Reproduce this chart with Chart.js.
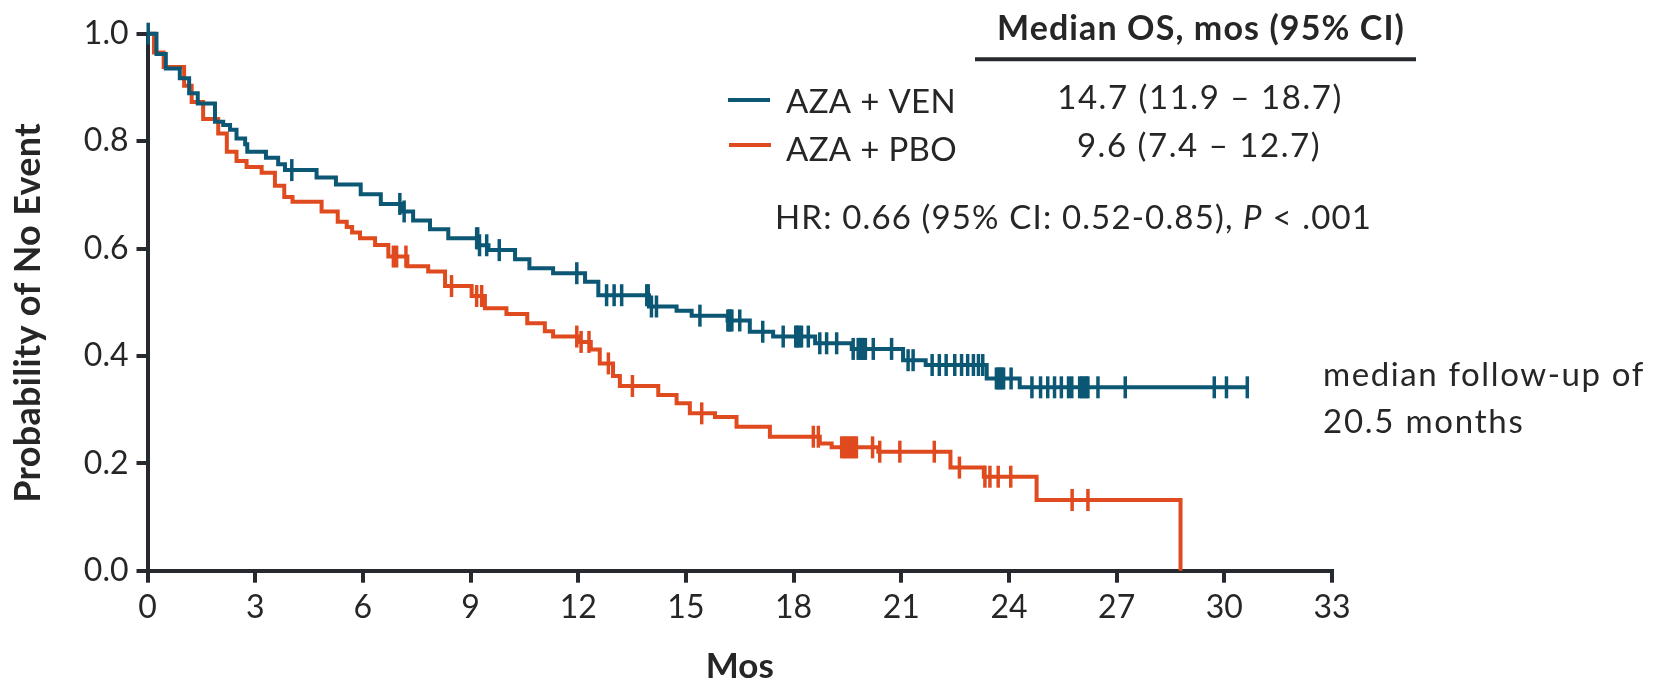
<!DOCTYPE html>
<html><head><meta charset="utf-8">
<script src="https://cdn.jsdelivr.net/npm/chart.js@4.4.1/dist/chart.umd.min.js"></script>
<style>html,body{margin:0;padding:0;background:#fff;} #wrap{width:1656px;height:681px;position:relative}</style>
</head><body><div id="wrap"><canvas id="c" width="1656" height="681"></canvas></div>
<script>
// ---------- data ----------
const xTickValues = [0, 3, 6, 9, 12, 15, 18, 21, 24, 27, 30, 33];
const yTickValues = [0, 0.2, 0.4, 0.6, 0.8, 1.0];

const venEventTimes = [0.25, 0.51, 0.90, 1.16, 1.40, 1.88, 2.11, 2.30, 2.48, 2.72, 2.78, 3.30, 3.64, 3.83, 4.71, 5.25, 5.94, 6.50, 7.10, 7.40, 7.87, 8.38, 9.22, 9.50, 10.24, 10.64, 11.30, 12.19, 12.56, 13.97, 14.74, 15.16, 16.16, 16.78, 17.43, 18.60, 19.62, 21.05, 21.68, 23.38, 24.30];
const venSurvival   = [0.962, 0.935, 0.917, 0.889, 0.870, 0.836, 0.830, 0.821, 0.805, 0.794, 0.780, 0.769, 0.757, 0.746, 0.732, 0.719, 0.701, 0.683, 0.669, 0.652, 0.636, 0.619, 0.606, 0.597, 0.580, 0.563, 0.554, 0.538, 0.513, 0.492, 0.484, 0.475, 0.466, 0.445, 0.436, 0.4235, 0.413, 0.392, 0.383, 0.358, 0.3415];
const venCensorTimes = [0.02, 4.02, 7.03, 7.15, 9.17, 9.20, 9.25, 9.45, 9.80, 11.96, 12.79, 13.00, 13.21, 13.91, 13.95, 14.04, 14.18, 15.39, 16.17, 16.20, 16.24, 16.28, 16.50, 17.14, 17.71, 18.06, 18.10, 18.15, 18.22, 18.41, 18.73, 18.92, 19.20, 19.66, 19.80, 19.85, 19.90, 19.95, 20.00, 20.22, 20.73, 21.19, 21.33, 21.86, 22.06, 22.25, 22.49, 22.68, 22.85, 23.01, 23.15, 23.27, 23.65, 23.70, 23.75, 23.80, 23.85, 24.06, 24.64, 24.88, 25.08, 25.27, 25.46, 25.66, 25.75, 25.97, 26.03, 26.09, 26.15, 26.20, 26.48, 27.24, 29.72, 30.06, 30.64];
const venLastTime = 30.64;

const pboEventTimes = [0.18, 0.45, 1.02, 1.23, 1.55, 1.97, 2.21, 2.48, 2.76, 3.18, 3.55, 3.81, 4.04, 4.85, 5.30, 5.55, 5.70, 5.92, 6.34, 6.71, 7.24, 7.82, 8.29, 9.03, 9.40, 10.00, 10.58, 11.07, 11.30, 12.00, 12.35, 12.60, 12.97, 13.16, 14.23, 14.74, 15.11, 15.81, 16.41, 17.34, 18.73, 19.06, 20.36, 22.37, 23.30, 24.77, 28.78];
const pboSurvival   = [0.965, 0.938, 0.903, 0.873, 0.841, 0.814, 0.780, 0.763, 0.752, 0.741, 0.717, 0.696, 0.687, 0.669, 0.650, 0.640, 0.630, 0.619, 0.6065, 0.585, 0.567, 0.557, 0.530, 0.5115, 0.4886, 0.478, 0.461, 0.446, 0.436, 0.426, 0.412, 0.386, 0.3626, 0.344, 0.327, 0.312, 0.293, 0.286, 0.268, 0.2495, 0.237, 0.2297, 0.2216, 0.192, 0.175, 0.1317, 0];
const pboCensorTimes = [6.85, 6.94, 7.20, 8.47, 9.17, 9.31, 11.96, 12.08, 12.30, 12.84, 13.51, 15.44, 18.55, 18.69, 19.34, 19.40, 19.46, 19.52, 19.58, 19.64, 19.70, 19.75, 20.20, 20.40, 20.96, 21.92, 22.62, 23.33, 23.47, 23.70, 24.05, 25.76, 26.20];
const pboLastTime = 28.78;

const seriesNames = ['AZA + VEN', 'AZA + PBO'];
const medianText = ['14.7 (11.9 \u2013 18.7)', '9.6 (7.4 \u2013 12.7)'];

// ---------- styling ----------
const BLUE = '#0b5774';
const ORANGE = '#e04a1f';
const AXIS = '#262a2e';
const TEXT = '#262626';
const FONT = 'Lato';

function survAt(times, surv, t) {
  let s = 1;
  for (let i = 0; i < times.length; i++) { if (times[i] <= t) s = surv[i]; }
  return s;
}
function stepData(times, surv, last) {
  const pts = [{x: 0, y: 1}];
  for (let i = 0; i < times.length; i++) pts.push({x: times[i], y: surv[i]});
  if (times[times.length - 1] < last) pts.push({x: last, y: surv[surv.length - 1]});
  return pts;
}
function censorData(times, evT, evS) {
  return times.map(t => ({x: t, y: survAt(evT, evS, t)}));
}

function txt(ctx, s, x, y, font, spacing, align) {
  ctx.font = font;
  ctx.letterSpacing = spacing + 'px';
  ctx.textAlign = align;
  ctx.fillText(s, x, y);
  const w = ctx.measureText(s).width;
  ctx.letterSpacing = '0px';
  return w;
}

const annotate = {
  id: 'annotate',
  afterDraw(chart) {
    const ctx = chart.ctx;
    ctx.save();
    ctx.fillStyle = TEXT;
    ctx.textBaseline = 'alphabetic';
    // axis titles
    txt(ctx, 'Mos', (chart.chartArea.left + chart.chartArea.right) / 2, 678, `bold 35px ${FONT}`, 0, 'center');
    ctx.save();
    ctx.translate(40, 313);
    ctx.rotate(-Math.PI / 2);
    txt(ctx, 'Probability of No Event', 0, 0, `bold 36px ${FONT}`, 0.3, 'center');
    ctx.restore();
    // header
    txt(ctx, 'Median OS, mos (95% CI)', 1201, 40, `bold 34px ${FONT}`, 1.1, 'center');
    ctx.strokeStyle = AXIS;
    ctx.lineWidth = 4;
    ctx.beginPath(); ctx.moveTo(975, 59.3); ctx.lineTo(1416, 59.3); ctx.stroke();
    // medians
    txt(ctx, medianText[0], 1200, 109.3, `33px ${FONT}`, 1.55, 'center');
    txt(ctx, medianText[1], 1199, 156.7, `33px ${FONT}`, 1.55, 'center');
    // legend
    ctx.lineWidth = 4;
    ctx.strokeStyle = BLUE;
    ctx.beginPath(); ctx.moveTo(728, 100); ctx.lineTo(770, 100); ctx.stroke();
    ctx.strokeStyle = ORANGE;
    ctx.beginPath(); ctx.moveTo(729, 145); ctx.lineTo(771, 145); ctx.stroke();
    txt(ctx, seriesNames[0], 786, 113.3, `33px ${FONT}`, 0.3, 'left');
    txt(ctx, seriesNames[1], 786, 160.7, `33px ${FONT}`, 0.3, 'left');
    // HR line with italic P
    let x = 775;
    const parts = [['HR: 0.66 (95% CI: 0.52-0.85), ', `33px ${FONT}`], ['P', `italic 33px ${FONT}`], [' < .001', `33px ${FONT}`]];
    for (const [t, f] of parts) { x += txt(ctx, t, x, 229.3, f, 1.15, 'left'); }
    // follow-up note
    txt(ctx, 'median follow-up of', 1323, 386, `33px ${FONT}`, 1.6, 'left');
    txt(ctx, '20.5 months', 1323, 433.3, `33px ${FONT}`, 1.75, 'left');
    ctx.restore();
  }
};

new Chart(document.getElementById('c'), {
  type: 'line',
  data: {
    datasets: [
      { label: seriesNames[0] + ' censored', data: censorData(venCensorTimes, venEventTimes, venSurvival), showLine: false,
        pointStyle: 'line', pointRotation: 90, pointRadius: 11, pointBorderWidth: 3.5, pointBorderColor: BLUE, pointBackgroundColor: BLUE, clip: false },
      { label: seriesNames[0], data: stepData(venEventTimes, venSurvival, venLastTime), stepped: true, borderColor: BLUE,
        borderWidth: 4, pointRadius: 0, fill: false, clip: false, borderJoinStyle: 'miter', borderCapStyle: 'butt' },
      { label: seriesNames[1] + ' censored', data: censorData(pboCensorTimes, pboEventTimes, pboSurvival), showLine: false,
        pointStyle: 'line', pointRotation: 90, pointRadius: 11, pointBorderWidth: 3.5, pointBorderColor: ORANGE, pointBackgroundColor: ORANGE, clip: false },
      { label: seriesNames[1], data: stepData(pboEventTimes, pboSurvival, pboLastTime), stepped: true, borderColor: ORANGE,
        borderWidth: 4, pointRadius: 0, fill: false, clip: false, borderJoinStyle: 'miter', borderCapStyle: 'butt' }
    ]
  },
  options: {
    responsive: false,
    devicePixelRatio: 1,
    animation: false,
    events: [],
    layout: { padding: { top: 33.7, right: 1656 - 1332, bottom: 0, left: 0 } },
    plugins: { legend: { display: false }, tooltip: { enabled: false } },
    scales: {
      x: {
        type: 'linear', min: 0, max: 33, position: 'bottom',
        afterBuildTicks: s => { s.ticks = xTickValues.map(v => ({value: v})); },
        afterFit: s => { s.height = 681 - 570.7; },
        ticks: { font: { family: FONT, size: 32 }, color: TEXT, padding: 6, maxRotation: 0, autoSkip: false, callback: v => String(v) },
        grid: { display: true, drawOnChartArea: false, drawTicks: true, tickLength: 12, tickWidth: 4, lineWidth: 4, tickColor: AXIS, color: AXIS },
        border: { display: true, width: 4, color: AXIS }
      },
      y: {
        type: 'linear', min: 0, max: 1, position: 'left',
        afterBuildTicks: s => { s.ticks = yTickValues.map(v => ({value: v})); },
        afterFit: s => { s.width = 147.5; },
        ticks: { font: { family: FONT, size: 32 }, color: TEXT, padding: 8, autoSkip: false, callback: v => Number(v).toFixed(1) },
        grid: { display: true, drawOnChartArea: false, drawTicks: true, tickLength: 11, tickWidth: 4, lineWidth: 4, tickColor: AXIS, color: AXIS },
        border: { display: true, width: 4, color: AXIS }
      }
    }
  },
  plugins: [annotate]
});
</script>
</body></html>
